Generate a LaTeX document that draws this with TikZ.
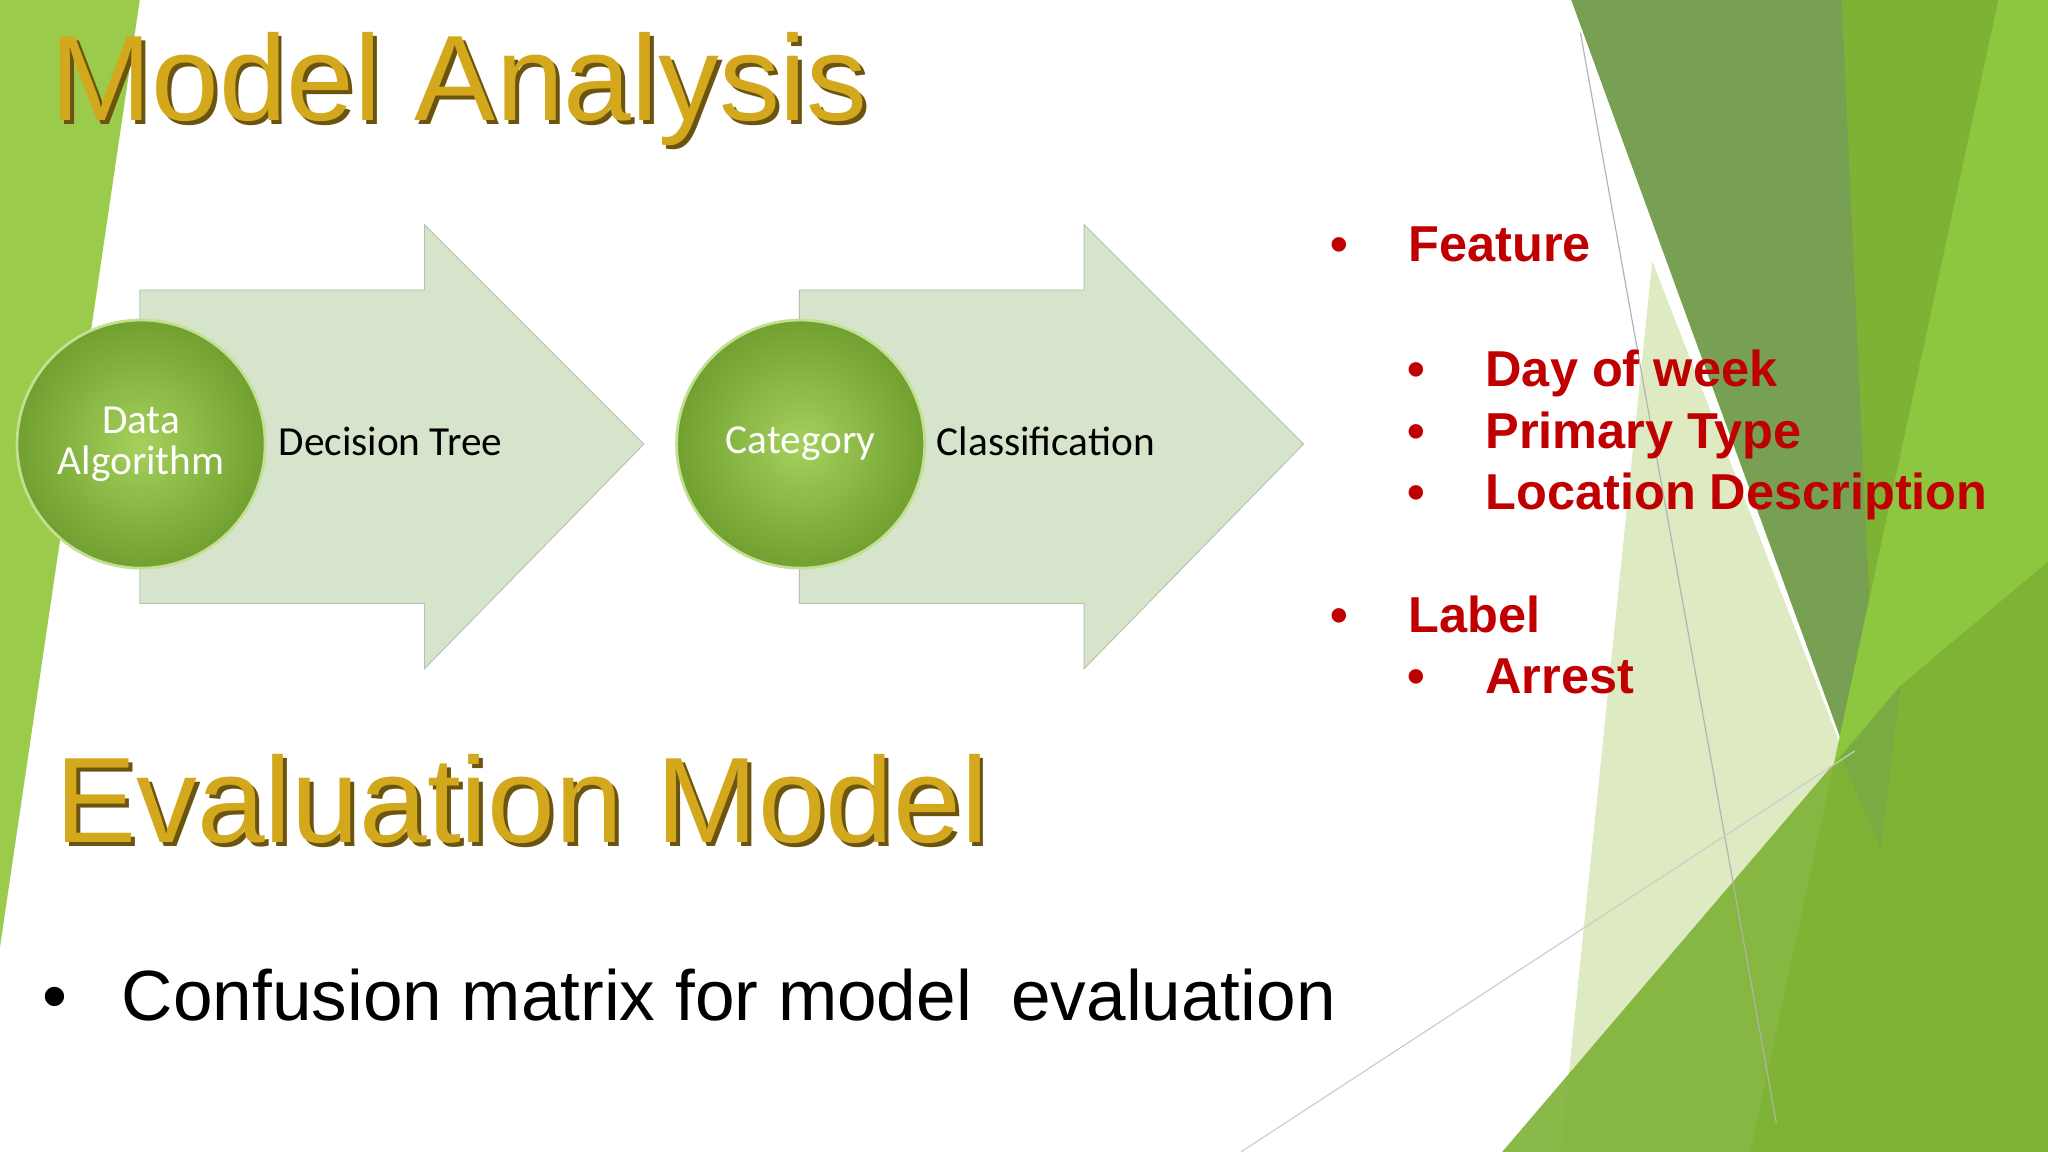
\documentclass[tikz,border=0pt]{standalone}
\usepackage{fontspec}
\setmainfont{Liberation Sans}
\newfontfamily\calib{Carlito}
\usetikzlibrary{shadings}
\definecolor{gold}{HTML}{D4A81C}
\definecolor{goldsh}{HTML}{6B5410}
\definecolor{red1}{HTML}{C00000}
\definecolor{arr}{HTML}{D7E4CC}
\definecolor{g1}{HTML}{9BCB4A}
\definecolor{g2}{HTML}{77A052}
\definecolor{g3}{HTML}{7DB235}
\definecolor{g4}{HTML}{8DC63F}
\definecolor{pale}{HTML}{DDEAC2}
\tikzset{
 title/.style={font=\fontsize{53}{60}\selectfont, anchor=base west, inner sep=0},
 blt/.style={font=\bfseries\fontsize{22}{26}\selectfont, text=red1, anchor=base west, inner sep=0},
 ball/.style={circle, minimum size=3.8cm, inner color=g1!90!white, outer color=g3!90!black, draw=g1!60!white, line width=1.2pt, text=white, font=\calib\fontsize{18}{20}\selectfont, align=center},
 lbl/.style={font=\calib\fontsize{18}{20}\selectfont, anchor=west, inner sep=0},
 barrow/.style={fill=arr, draw=arr!85!black, line width=0.4pt}
}
\begin{document}
\begin{tikzpicture}[x=0.02cm,y=-0.02cm]
\fill[white] (0,0) rectangle (1568,882);
\useasboundingbox (0,0) rectangle (1568,882);
% left green
\fill[g1] (0,0) -- (107,0) -- (0,725) -- cycle;
% right decorations
\fill[pale] (1265,200) -- (1440,650) -- (1350,882) -- (1195,882) -- cycle;
\fill[g2] (1203,0) -- (1420,0) -- (1440,650) -- cycle;
\fill[g3] (1410,0) -- (1530,0) -- (1440,650) -- cycle;
\fill[g4] (1530,0) -- (1568,0) -- (1568,882) -- (1340,882) -- cycle;
\fill[g3, opacity=0.9] (1455,525) -- (1568,430) -- (1568,882) -- (1150,882) -- cycle;
\fill[g2!80!g3, opacity=0.6] (1410,580) -- (1455,525) -- (1440,650) -- cycle;
\draw[gray!60, line width=0.5pt] (1210,25) -- (1360,860);
\draw[gray!40, line width=0.5pt] (950,882) -- (1420,575);
% titles
\node[title, text=goldsh] at (41,95) {Model Analysis};
\node[title, text=gold] (t1) at (38,92) {Model Analysis};
\node[title, text=goldsh] at (45,648) {Evaluation Model};
\node[title, text=gold] (t2) at (42,645) {Evaluation Model};
% arrows
\draw[barrow] (107,222) -- (325,222) -- (325,172) -- (493,340) -- (325,512) -- (325,462) -- (107,462) -- cycle;
\draw[barrow] (612,222) -- (830,222) -- (830,172) -- (998,340) -- (830,512) -- (830,462) -- (612,462) -- cycle;
\node[ball] (c1) at (108,340) {Data\\[-2pt]Algorithm};
\node[ball] (c2) at (613,340) {Category};
\node[lbl] (l1) at (213,338) {Decision Tree};
\node[lbl] (l2) at (717,338) {Classification};
% right bullets
\node[blt] (b1) at (1018,200) {•};
\node[blt] (f1) at (1078,200) {Feature};
\node[blt] (b2) at (1077,296) {•};
\node[blt] (f2) at (1137,296) {Day of week};
\node[blt] (b3) at (1077,343) {•};
\node[blt] (f3) at (1137,343) {Primary Type};
\node[blt] (b4) at (1077,390) {•};
\node[blt] (f4) at (1137,390) {Location Description};
\node[blt] (b5) at (1018,484) {•};
\node[blt] (f5) at (1078,484) {Label};
\node[blt] (b6) at (1077,531) {•};
\node[blt] (f6) at (1137,531) {Arrest};
% bottom bullet
\node[anchor=base west, inner sep=0, font=\fontsize{31}{36}\selectfont] (bb) at (32,781) {•};
\node[anchor=base west, inner sep=0, font=\fontsize{31}{36}\selectfont] (ct) at (93,781) {Confusion matrix for model\ \ evaluation};
\end{tikzpicture}
\end{document}
